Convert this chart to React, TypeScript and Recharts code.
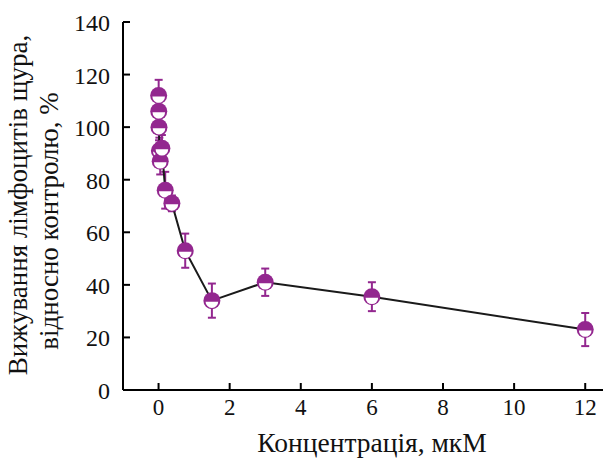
import { ComposedChart, ErrorBar, Line, XAxis, YAxis } from 'recharts'

// concentration, uM (twofold dilutions)
const concentrations = [0.003, 0.006, 0.012, 0.023, 0.047, 0.094, 0.1875, 0.375, 0.75, 1.5, 3, 6, 12]
// survival of rat lymphocytes, % of control
const survival = [112, 106, 100, 91, 87, 92, 76, 71, 53, 34, 41, 35.5, 23]
const survivalSd = [6, 5, 5, 5, 5, 5, 7, 3, 6.5, 6.5, 5.2, 5.5, 6.3]

const xTicks = [0, 2, 4, 6, 8, 10, 12]
const yTicks = [0, 20, 40, 60, 80, 100, 120, 140]

const data = concentrations.map((x, i) => ({ x, y: survival[i], err: survivalSd[i] }))

const PURPLE = '#93278f'
const SERIF = 'Liberation Serif'

function HalfDot(props: any) {
  const { cx, cy } = props
  if (cx == null || cy == null) return null
  const r = 8.5
  const ri = 6.3
  return (
    <g>
      <circle cx={cx} cy={cy} r={r} fill={PURPLE} />
      <path d={`M ${cx - ri} ${cy + 1} A ${ri} ${ri} 0 0 0 ${cx + ri} ${cy + 1} Z`} fill="#fff" />
    </g>
  )
}

function YTick(props: any) {
  const { x, y, payload } = props
  return (
    <g>
      <line x1={x} x2={x + 7} y1={y} y2={y} stroke="#000" strokeWidth={2} />
      <text x={x - 13} y={y + 9} textAnchor="end" fontSize={24} fontFamily={SERIF} fill="#111">
        {payload.value}
      </text>
    </g>
  )
}

function XTick(props: any) {
  const { x, y, payload } = props
  return (
    <g>
      <line x1={x} x2={x} y1={y} y2={y - 7} stroke="#000" strokeWidth={2} />
      <text x={x} y={y + 25} textAnchor="middle" fontSize={23} fontFamily={SERIF} fill="#111">
        {payload.value}
      </text>
    </g>
  )
}

export default function App() {
  return (
    <div style={{ position: 'absolute', left: 0, top: 0, background: '#fff' }}>
      <ComposedChart width={603} height={459} data={data} margin={{ top: 22, right: 0, bottom: 0, left: 0 }}>
        <XAxis
          dataKey="x"
          type="number"
          domain={[-1, 12.5]}
          ticks={xTicks}
          allowDataOverflow
          height={69}
          tickSize={0}
          tickMargin={0}
          tick={<XTick />}
          axisLine={{ stroke: '#000', strokeWidth: 2 }}
          label={{
            content: () => (
              <text x={372} y={452} textAnchor="middle" fontSize={27.5} fontFamily={SERIF} fill="#111">
                Концентрація, мкМ
              </text>
            ),
          }}
        />
        <YAxis
          type="number"
          domain={[0, 140]}
          ticks={yTicks}
          width={123}
          tickSize={0}
          tickMargin={0}
          tick={<YTick />}
          axisLine={{ stroke: '#000', strokeWidth: 2 }}
          label={{
            content: () => (
              <g fontSize={27} fontFamily={SERIF} fill="#111">
                <text x={27} y={205} transform="rotate(-90, 27, 205)" textAnchor="middle">
                  Вижування лімфоцитів щура,
                </text>
                <text x={58} y={221} transform="rotate(-90, 58, 221)" textAnchor="middle">
                  відносно контролю, %
                </text>
              </g>
            ),
          }}
        />
        <Line
          dataKey="y"
          type="linear"
          stroke="#1a1a1a"
          strokeWidth={2}
          dot={(p: any) => <HalfDot key={`d${p.index}`} {...p} />}
          activeDot={false}
          isAnimationActive={false}
        >
          <ErrorBar dataKey="err" direction="y" width={4} strokeWidth={2} stroke={PURPLE} />
        </Line>
      </ComposedChart>
    </div>
  )
}
